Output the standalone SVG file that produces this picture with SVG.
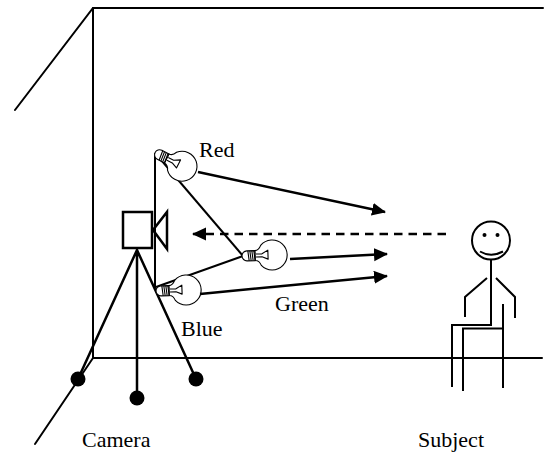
<svg xmlns="http://www.w3.org/2000/svg" width="545" height="454" viewBox="0 0 545 454">
  <style>
    .room { fill: none; stroke: #000; stroke-width: 2; stroke-linecap: round; }
    .thick { fill: none; stroke: #000; stroke-width: 2.5; stroke-linecap: round; }
    .arrow { fill: none; stroke: #000; stroke-width: 2.5; marker-end: url(#head); }
    .dash { stroke-dasharray: 8.5 6; stroke-linecap: butt; }
    .fig { fill: none; stroke: #000; stroke-width: 2; }
    .bulb { fill: #fff; stroke: #000; stroke-width: 1.1; stroke-linejoin: round; }
    .wire { fill: none; stroke: #000; stroke-width: 2; }
    .label { font-family: "Liberation Serif", "Times New Roman", serif; font-size: 22px; fill: #000; }
  </style>
  <defs>
    <marker id="head" markerUnits="userSpaceOnUse" markerWidth="16" markerHeight="15" refX="13" refY="6.5" orient="auto">
      <path d="M0,0 L14,6.5 L0,13 Z" fill="#000"/>
    </marker>
    <!-- light bulb: socket tip at origin, glass pointing along +x -->
    <g id="bulb">
      <path class="bulb" d="M12,-5 Q16,-5 18,-10 A15,15 0 1 1 18,10 Q16,5 12,5 Z"/>
      <path class="bulb" d="M4,-5 L12,-5 L12,5 L4,5 A5,5 0 0 1 4,-5 Z"/>
      <path class="bulb" fill="none" d="M5,-5 L6,5 M7,-5 L8,5 M9,-5 L10,5 M11,-5 L12,5"/>
      <path class="bulb" fill="none" d="M13,-1.5 L19,-1.5 L25,-5 L25,4 L19,1.5 L13,1.5"/>
    </g>
  </defs>

  <!-- room corner -->
  <g id="room">
    <path class="room" d="M15,110 L93,8 L543,8"/>
    <path class="room" d="M93,8 L93,358 L542,358"/>
    <path class="room" d="M93,358 L35,444"/>
  </g>

  <!-- wiring between the three lamps -->
  <g id="wiring">
    <path class="wire" d="M155,153 L155,288"/>
    <path class="wire" d="M156,154 L243,256"/>
    <path class="wire" d="M156,287 L243,256"/>
  </g>

  <!-- camera on tripod -->
  <g id="camera">
    <path class="thick" d="M137,250 L78,379 M137,250 L137,398 M137,250 L196,379"/>
    <circle cx="78" cy="379" r="7.5" fill="#000"/>
    <circle cx="137" cy="398" r="7.5" fill="#000"/>
    <circle cx="196" cy="379" r="7.5" fill="#000"/>
    <rect x="123" y="212" width="29" height="36" fill="#fff" stroke="#000" stroke-width="2.5"/>
    <path class="thick" d="M153,230 L167,212 L167,249 Z"/>
  </g>

  <!-- lamps -->
  <g id="lamp-red"><use href="#bulb" transform="translate(156,153) rotate(27)"/></g>
  <g id="lamp-green"><use href="#bulb" transform="translate(243,256) rotate(-2)"/></g>
  <g id="lamp-blue"><use href="#bulb" transform="translate(157,291) rotate(-2)"/></g>

  <!-- light paths -->
  <g id="connectors">
    <path class="arrow" d="M198,172 L385,212"/>
    <path class="arrow" d="M290,259 L387,254"/>
    <path class="arrow" d="M200,294 L387,276"/>
    <path class="arrow dash" d="M446,234 L193,234"/>
  </g>

  <!-- seated subject -->
  <g id="subject">
    <circle cx="491" cy="240.5" r="19" fill="none" stroke="#000" stroke-width="2"/>
    <circle cx="484.5" cy="235" r="2" fill="#000"/>
    <circle cx="497.5" cy="235" r="2" fill="#000"/>
    <path class="fig" d="M480,251.5 Q491,258 503,251.5"/>
    <path class="fig" d="M491,260 L491,325 L452,325 L452,387"/>
    <path class="fig" d="M487,278 L465,297 L465,317"/>
    <path class="fig" d="M496,278 L515,297 L515,318"/>
    <path class="fig" d="M463,391 L463,328.5 L503,328.5"/>
    <path class="fig" d="M503,304 L503,388"/>
  </g>

  <!-- labels -->
  <g id="labels">
    <text class="label" x="199" y="157">Red</text>
    <text class="label" x="275" y="311">Green</text>
    <text class="label" x="181" y="336">Blue</text>
    <text class="label" x="82" y="447">Camera</text>
    <text class="label" x="418" y="447">Subject</text>
  </g>
</svg>
